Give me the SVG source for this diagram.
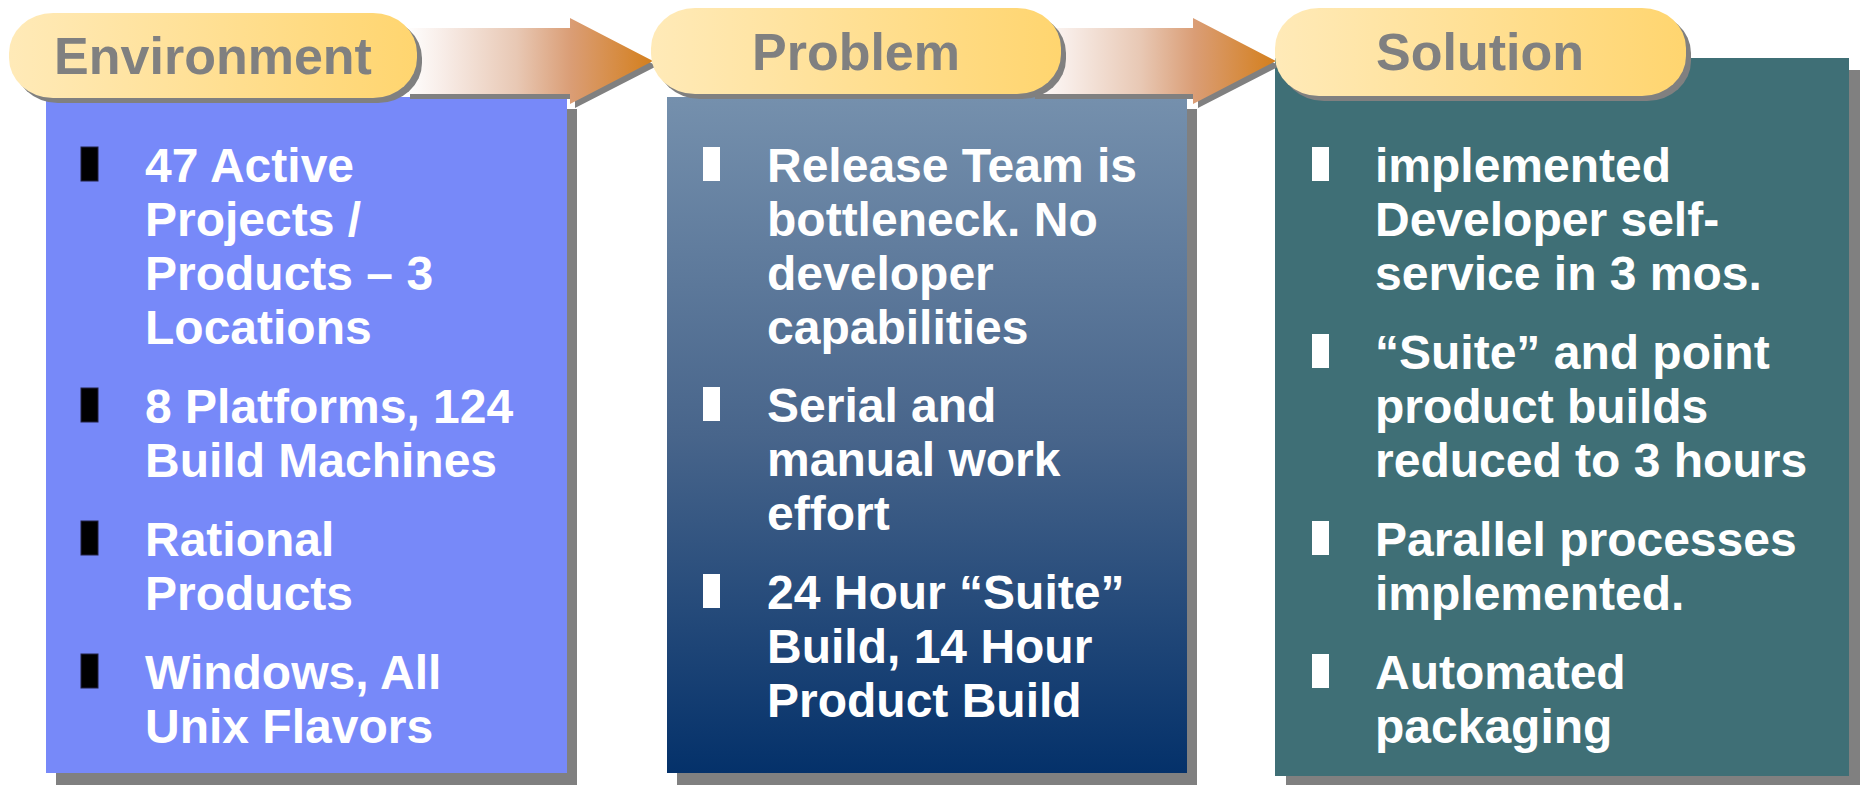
<svg xmlns="http://www.w3.org/2000/svg" width="1862" height="785" viewBox="0 0 1862 785">
  <defs>
    <linearGradient id="pillFill" x1="0" y1="0" x2="1" y2="0">
      <stop offset="0" stop-color="#FFEAB8"/>
      <stop offset="1" stop-color="#FFD56F"/>
    </linearGradient>
    <linearGradient id="arrowFill" x1="0" y1="0" x2="1" y2="0">
      <stop offset="0" stop-color="#FFFFFF"/>
      <stop offset="0.15" stop-color="#F8EDE8"/>
      <stop offset="0.45" stop-color="#E8C8B4"/>
      <stop offset="0.67" stop-color="#DA9D75"/>
      <stop offset="1" stop-color="#D47F1C"/>
    </linearGradient>
    <linearGradient id="problemFill" x1="0" y1="0" x2="0" y2="1">
      <stop offset="0" stop-color="#7590AD"/>
      <stop offset="0.5" stop-color="#48658B"/>
      <stop offset="1" stop-color="#04316A"/>
    </linearGradient>
  </defs>
  <style>
    .shadow { fill: #808080; }
    .pill { fill: url(#pillFill); }
    .arrow { fill: url(#arrowFill); }
    .head { font-family: "Liberation Sans", Arial, sans-serif; font-weight: bold; font-size: 52px; fill: #808080; text-anchor: middle; }
    .body { font-family: "Liberation Sans", Arial, sans-serif; font-weight: bold; font-size: 48px; fill: #FFFFFF; }
    .bul-dark { fill: #000000; stroke: #222244; stroke-width: 1; }
    .bul-light { fill: #FFFFFF; }
  </style>

  <!-- content boxes with drop shadows -->
  <g id="box-environment">
    <rect class="shadow" x="56" y="109" width="521" height="676"/>
    <rect x="46" y="97" width="521" height="676" fill="#7789F9"/>
  </g>
  <g id="box-problem">
    <rect class="shadow" x="677" y="109" width="520" height="676"/>
    <rect x="667" y="97" width="520" height="676" fill="url(#problemFill)"/>
  </g>
  <g id="box-solution">
    <rect class="shadow" x="1286" y="70" width="574" height="718"/>
    <rect x="1275" y="58" width="574" height="718" fill="#3F6F76"/>
  </g>

  <!-- flow arrows between the stages (tails tucked under the header pills) -->
  <g id="connectors">
    <g id="arrow-environment-problem">
      <path class="shadow" d="M410 33 H575 V23 L657 66 L575 108 V99 H410 Z"/>
      <path class="arrow" d="M405 28 H570 V18 L653 61 L570 104 V94 H405 Z"/>
    </g>
    <g id="arrow-problem-solution">
      <path class="shadow" d="M1035 33 H1198 V23 L1280 66 L1198 108 V99 H1035 Z"/>
      <path class="arrow" d="M1030 28 H1193 V18 L1276 61 L1193 104 V94 H1030 Z"/>
    </g>
  </g>

  <!-- stage headers -->
  <g id="header-environment">
    <rect class="shadow" x="14" y="18" width="408" height="85" rx="44" ry="40"/>
    <rect class="pill" x="9" y="13" width="408" height="85" rx="44" ry="40"/>
    <text class="head" x="213" y="74">Environment</text>
  </g>
  <g id="header-problem">
    <rect class="shadow" x="656" y="13" width="410" height="86" rx="44" ry="40"/>
    <rect class="pill" x="651" y="8" width="410" height="86" rx="44" ry="40"/>
    <text class="head" x="856" y="70">Problem</text>
  </g>
  <g id="header-solution">
    <rect class="shadow" x="1280" y="13" width="411" height="88" rx="44" ry="40"/>
    <rect class="pill" x="1275" y="8" width="411" height="88" rx="44" ry="40"/>
    <text class="head" x="1480" y="70">Solution</text>
  </g>

  <!-- bullet lists -->
  <g id="list-environment">
    <rect class="bul-dark" x="81" y="147" width="17" height="34"/>
    <rect class="bul-dark" x="81" y="388" width="17" height="34"/>
    <rect class="bul-dark" x="81" y="521" width="17" height="34"/>
    <rect class="bul-dark" x="81" y="654" width="17" height="34"/>
    <text class="body" x="145" y="182">47 Active</text>
    <text class="body" x="145" y="236">Projects /</text>
    <text class="body" x="145" y="290">Products – 3</text>
    <text class="body" x="145" y="344">Locations</text>
    <text class="body" x="145" y="423">8 Platforms, 124</text>
    <text class="body" x="145" y="477">Build Machines</text>
    <text class="body" x="145" y="556">Rational</text>
    <text class="body" x="145" y="610">Products</text>
    <text class="body" x="145" y="689">Windows, All</text>
    <text class="body" x="145" y="743">Unix Flavors</text>
  </g>
  <g id="list-problem">
    <rect class="bul-light" x="703" y="147" width="17" height="34"/>
    <rect class="bul-light" x="703" y="387" width="17" height="34"/>
    <rect class="bul-light" x="703" y="574" width="17" height="34"/>
    <text class="body" x="767" y="182">Release Team is</text>
    <text class="body" x="767" y="236">bottleneck. No</text>
    <text class="body" x="767" y="290">developer</text>
    <text class="body" x="767" y="344">capabilities</text>
    <text class="body" x="767" y="422">Serial and</text>
    <text class="body" x="767" y="476">manual work</text>
    <text class="body" x="767" y="530">effort</text>
    <text class="body" x="767" y="609">24 Hour “Suite”</text>
    <text class="body" x="767" y="663">Build, 14 Hour</text>
    <text class="body" x="767" y="717">Product Build</text>
  </g>
  <g id="list-solution">
    <rect class="bul-light" x="1312" y="147" width="17" height="34"/>
    <rect class="bul-light" x="1312" y="334" width="17" height="34"/>
    <rect class="bul-light" x="1312" y="521" width="17" height="34"/>
    <rect class="bul-light" x="1312" y="654" width="17" height="34"/>
    <text class="body" x="1375" y="182">implemented</text>
    <text class="body" x="1375" y="236">Developer self-</text>
    <text class="body" x="1375" y="290">service in 3 mos.</text>
    <text class="body" x="1375" y="369">“Suite” and point</text>
    <text class="body" x="1375" y="423">product builds</text>
    <text class="body" x="1375" y="477">reduced to 3 hours</text>
    <text class="body" x="1375" y="556">Parallel processes</text>
    <text class="body" x="1375" y="610">implemented.</text>
    <text class="body" x="1375" y="689">Automated</text>
    <text class="body" x="1375" y="743">packaging</text>
  </g>
</svg>
